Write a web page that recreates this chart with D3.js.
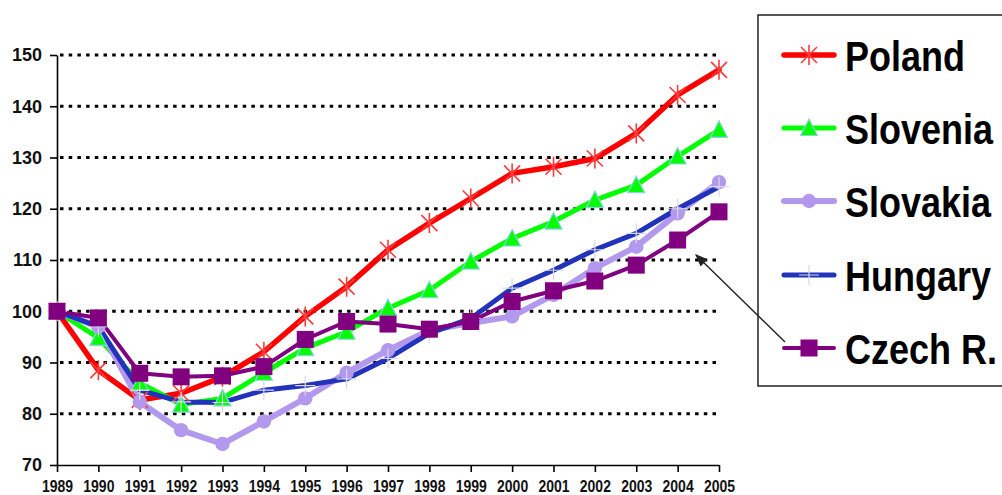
<!DOCTYPE html>
<html>
<head>
<meta charset="utf-8">
<script src="https://cdn.jsdelivr.net/npm/d3@7"></script>
<style>
  html, body { margin: 0; padding: 0; background: #fff; }
  svg { display: block; font-family: "Liberation Sans", Arial, sans-serif; }
</style>
</head>
<body>
<svg id="chart" width="1002" height="495"></svg>
<script>
// GDP index, 1989 = 100
const years = [1989,1990,1991,1992,1993,1994,1995,1996,1997,1998,1999,2000,2001,2002,2003,2004,2005];
const poland   = [100, 88.5, 82.7, 84, 87.2, 92.1, 99, 104.8, 112, 117.2, 122, 126.9, 128.2, 129.8, 134.7, 142.2, 147.1];
const slovenia = [100, 94.8, 86, 81.8, 83, 88, 92.8, 96, 100.6, 104.1, 109.7, 114.2, 117.5, 121.7, 124.6, 130.2, 135.4];
const slovakia = [100, 97, 82.3, 76.8, 74.1, 78.5, 83, 88, 92.4, 96.3, 97.7, 99, 103.2, 108.4, 112.6, 119.1, 125.2];
const hungary  = [100, 97, 84.6, 82.3, 82.2, 84.6, 85.5, 86.8, 90.8, 95.7, 98.6, 104.5, 108, 112, 115.2, 120, 124.3];
const czech    = [100, 98.7, 87.9, 87.2, 87.4, 89.2, 94.5, 98, 97.5, 96.5, 98, 101.9, 104, 105.9, 109, 113.9, 119.4];
const yTicks = [70, 80, 90, 100, 110, 120, 130, 140, 150];
const countries = ["Poland", "Slovenia", "Slovakia", "Hungary", "Czech R."];

const series = [
  { name: countries[0], values: poland,   color: "#ff0000", width: 5.5, marker: "asterisk" },
  { name: countries[1], values: slovenia, color: "#00ff00", width: 5,   marker: "triangle" },
  { name: countries[2], values: slovakia, color: "#b399ee", width: 6,   marker: "circle" },
  { name: countries[3], values: hungary,  color: "#2233bb", width: 5,   marker: "plus" },
  { name: countries[4], values: czech,    color: "#800080", width: 4,   marker: "square" }
];

const svg = d3.select("#chart");
const x = d3.scalePoint().domain(years).range([57, 719]);
const y = d3.scaleLinear().domain([70, 150]).range([465, 55]);

// dotted horizontal gridlines
svg.append("g")
  .selectAll("line")
  .data(yTicks.filter(v => v > 70))
  .join("line")
  .attr("x1", 60).attr("x2", 721)
  .attr("y1", d => y(d)).attr("y2", d => y(d))
  .attr("stroke", "#000")
  .attr("stroke-width", 3)
  .attr("stroke-dasharray", "3.5,5.2");

// axes
const yAxis = svg.append("g")
  .attr("transform", "translate(57,0)")
  .call(d3.axisLeft(y).tickValues(yTicks).tickSize(7).tickSizeOuter(0).tickPadding(8));
yAxis.selectAll("text")
  .attr("font-size", 18).attr("font-weight", "bold").attr("fill", "#111");

const xAxis = svg.append("g")
  .attr("transform", "translate(0,465)")
  .call(d3.axisBottom(x).tickSize(7).tickSizeOuter(0).tickPadding(9));
xAxis.selectAll("text")
  .attr("font-size", 14).attr("font-weight", "bold").attr("fill", "#111")
  .attr("transform", "translate(0,-2) scale(1,1.12)");

[yAxis, xAxis].forEach(g => {
  g.select(".domain").attr("stroke", "#000").attr("stroke-width", 1.6);
  g.selectAll(".tick line").attr("stroke", "#000").attr("stroke-width", 1.6);
});

// marker drawing
function drawMarker(g, type, cx, cy, color) {
  const m = g.append("g").attr("transform", `translate(${cx},${cy})`);
  if (type === "asterisk") {
    const r = 10;
    m.append("path")
      .attr("d", `M0,${-r}V${r}M${-r*0.8},${-r*0.8}L${r*0.8},${r*0.8}M${r*0.8},${-r*0.8}L${-r*0.8},${r*0.8}`)
      .attr("stroke", "#ff3b3b").attr("stroke-width", 1.6).attr("fill", "none");
  } else if (type === "triangle") {
    m.append("path")
      .attr("d", "M0,-9L8.5,7.5L-8.5,7.5Z")
      .attr("fill", color).attr("stroke", "#8fd0e8").attr("stroke-width", 1.2);
  } else if (type === "circle") {
    m.append("circle").attr("r", 7.2).attr("fill", color);
  } else if (type === "plus") {
    m.append("path")
      .attr("d", "M0,-10V10M-10,0H10")
      .attr("stroke", "#d8d8e8").attr("stroke-width", 1.2).attr("fill", "none");
  } else if (type === "square") {
    m.append("rect").attr("x", -8.5).attr("y", -8.5).attr("width", 17).attr("height", 17)
      .attr("fill", color);
  }
}

const line = d3.line().x((d, i) => x(years[i])).y(d => y(d));

// lines first, then markers on top
const linesG = svg.append("g");
series.forEach(s => {
  linesG.append("path")
    .datum(s.values)
    .attr("d", line)
    .attr("fill", "none")
    .attr("stroke", s.color)
    .attr("stroke-width", s.width)
    .attr("stroke-linejoin", "round")
    .attr("stroke-linecap", "round");
});
const marksG = svg.append("g");
series.forEach(s => {
  s.values.forEach((v, i) => drawMarker(marksG, s.marker, x(years[i]), y(v), s.color));
});

// legend
const legend = svg.append("g");
legend.append("rect")
  .attr("x", 758).attr("y", 15).attr("width", 250).attr("height", 371)
  .attr("fill", "#fff").attr("stroke", "#222").attr("stroke-width", 1.5);
const rowY = [55, 128, 201, 275, 348];
series.forEach((s, i) => {
  const ly = rowY[i];
  legend.append("line")
    .attr("x1", 784).attr("x2", 834).attr("y1", ly).attr("y2", ly)
    .attr("stroke", s.color).attr("stroke-width", s.width).attr("stroke-linecap", "round");
  drawMarker(legend, s.marker, 809, ly, s.color);
  legend.append("text")
    .attr("transform", `translate(845,${ly}) scale(1,1.2)`)
    .attr("dy", "0.36em")
    .attr("font-size", 36).attr("font-weight", "bold").attr("fill", "#000")
    .text(s.name);
});

// pointer from the Czech R. legend entry to its line
svg.append("defs").append("marker")
  .attr("id", "arrowhead")
  .attr("viewBox", "0 0 10 10").attr("refX", 9).attr("refY", 5)
  .attr("markerWidth", 9).attr("markerHeight", 9)
  .attr("orient", "auto")
  .append("path").attr("d", "M0,1L10,5L0,9Z").attr("fill", "#222");
svg.append("line")
  .attr("x1", 785).attr("y1", 342).attr("x2", 696).attr("y2", 255)
  .attr("stroke", "#222").attr("stroke-width", 1.4)
  .attr("marker-end", "url(#arrowhead)");
</script>
</body>
</html>
